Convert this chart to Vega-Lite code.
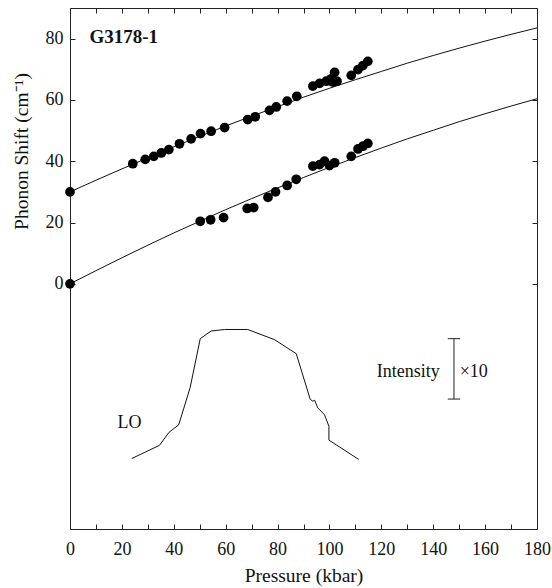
{
  "$schema": "https://vega.github.io/schema/vega-lite/v6.json",
  "width": 467,
  "height": 521,
  "autosize": "none",
  "padding": {"left": 70, "top": 8, "right": 15, "bottom": 59},
  "background": "white",
  "config": {
    "view": {"stroke": "#222", "strokeWidth": 1},
    "font": "Liberation Serif",
    "axis": {
      "grid": false,
      "domain": false,
      "tickColor": "#222",
      "tickSize": -5,
      "labelColor": "#111",
      "titleColor": "#111",
      "labelFont": "Liberation Serif",
      "titleFont": "Liberation Serif",
      "labelFontSize": 18,
      "titleFontSize": 19.5,
      "titleFontWeight": "normal"
    }
  },
  "datasets": {
    "fit": [
      {"series": "upper", "P": 0, "S": 30}, {"series": "upper", "P": 10, "S": 33.8}, {"series": "upper", "P": 20, "S": 37.5},
      {"series": "upper", "P": 30, "S": 41.1}, {"series": "upper", "P": 40, "S": 44.7}, {"series": "upper", "P": 50, "S": 48.1},
      {"series": "upper", "P": 60, "S": 51.5}, {"series": "upper", "P": 70, "S": 54.7}, {"series": "upper", "P": 80, "S": 57.8},
      {"series": "upper", "P": 90, "S": 60.9}, {"series": "upper", "P": 100, "S": 63.8}, {"series": "upper", "P": 110, "S": 66.6},
      {"series": "upper", "P": 120, "S": 69.3}, {"series": "upper", "P": 130, "S": 72.0}, {"series": "upper", "P": 140, "S": 74.5},
      {"series": "upper", "P": 150, "S": 76.9}, {"series": "upper", "P": 160, "S": 79.2}, {"series": "upper", "P": 170, "S": 81.4},
      {"series": "upper", "P": 180, "S": 83.5},
      {"series": "lower", "P": 0, "S": 0}, {"series": "lower", "P": 10, "S": 4.3}, {"series": "lower", "P": 20, "S": 8.5},
      {"series": "lower", "P": 30, "S": 12.6}, {"series": "lower", "P": 40, "S": 16.6}, {"series": "lower", "P": 50, "S": 20.4},
      {"series": "lower", "P": 60, "S": 24.2}, {"series": "lower", "P": 70, "S": 27.8}, {"series": "lower", "P": 80, "S": 31.3},
      {"series": "lower", "P": 90, "S": 34.7}, {"series": "lower", "P": 100, "S": 38.0}, {"series": "lower", "P": 110, "S": 41.2},
      {"series": "lower", "P": 120, "S": 44.3}, {"series": "lower", "P": 130, "S": 47.3}, {"series": "lower", "P": 140, "S": 50.1},
      {"series": "lower", "P": 150, "S": 52.9}, {"series": "lower", "P": 160, "S": 55.5}, {"series": "lower", "P": 170, "S": 58.0},
      {"series": "lower", "P": 180, "S": 60.4}
    ],
    "points": [
      {"P": 0, "S": 30}, {"P": 24.2, "S": 39.2}, {"P": 29.0, "S": 40.6}, {"P": 32.3, "S": 41.6}, {"P": 35.2, "S": 42.7},
      {"P": 38.1, "S": 43.8}, {"P": 42.2, "S": 45.7}, {"P": 46.7, "S": 47.3}, {"P": 50.3, "S": 49.0}, {"P": 54.4, "S": 49.8},
      {"P": 59.6, "S": 51.0}, {"P": 68.5, "S": 53.6}, {"P": 71.4, "S": 54.5}, {"P": 76.9, "S": 56.6}, {"P": 79.5, "S": 57.7},
      {"P": 83.7, "S": 59.6}, {"P": 87.4, "S": 61.2}, {"P": 93.6, "S": 64.5}, {"P": 96.2, "S": 65.4}, {"P": 98.8, "S": 66.1},
      {"P": 100.7, "S": 66.9}, {"P": 102.0, "S": 69.0}, {"P": 101.3, "S": 65.8}, {"P": 102.9, "S": 66.1}, {"P": 108.4, "S": 68.0},
      {"P": 111.0, "S": 69.9}, {"P": 112.9, "S": 71.2}, {"P": 114.8, "S": 72.6},
      {"P": 0, "S": 0}, {"P": 50.2, "S": 20.4}, {"P": 54.2, "S": 20.9}, {"P": 59.2, "S": 21.6}, {"P": 68.3, "S": 24.6},
      {"P": 70.8, "S": 24.9}, {"P": 76.3, "S": 28.2}, {"P": 79.2, "S": 30.0}, {"P": 83.7, "S": 32.1}, {"P": 87.2, "S": 34.1},
      {"P": 93.6, "S": 38.4}, {"P": 96.2, "S": 38.9}, {"P": 98.1, "S": 40.0}, {"P": 100.0, "S": 38.6}, {"P": 102.0, "S": 39.5},
      {"P": 108.4, "S": 41.6}, {"P": 111.0, "S": 44.0}, {"P": 112.9, "S": 44.9}, {"P": 114.8, "S": 45.8}
    ],
    "lo": [
      {"i": 1, "P": 23.8, "S": -57.0}, {"i": 2, "P": 34.5, "S": -52.7}, {"i": 3, "P": 38.1, "S": -48.5},
      {"i": 4, "P": 41.9, "S": -46.0}, {"i": 5, "P": 46.3, "S": -33.9}, {"i": 6, "P": 50.2, "S": -17.9},
      {"i": 7, "P": 54.4, "S": -15.4}, {"i": 8, "P": 59.6, "S": -14.9}, {"i": 9, "P": 68.5, "S": -14.9},
      {"i": 10, "P": 78.8, "S": -18.2}, {"i": 11, "P": 87.2, "S": -22.8}, {"i": 12, "P": 92.6, "S": -37.7},
      {"i": 13, "P": 93.6, "S": -38.3}, {"i": 14, "P": 94.3, "S": -38.0}, {"i": 15, "P": 95.5, "S": -40.5},
      {"i": 16, "P": 98.1, "S": -42.7}, {"i": 17, "P": 99.8, "S": -46.5}, {"i": 18, "P": 99.8, "S": -51.0},
      {"i": 19, "P": 111.3, "S": -57.3}
    ],
    "bar": [
      {"P": 148.0, "P2": 148.0, "S": -17.9, "S2": -37.6},
      {"P": 145.6, "P2": 150.4, "S": -17.9, "S2": -17.9},
      {"P": 145.6, "P2": 150.4, "S": -37.6, "S2": -37.6}
    ],
    "labels": [
      {"P": 18.3, "S": -45.3, "label": "LO"},
      {"P": 118.2, "S": -28.9, "label": "Intensity"},
      {"P": 150.2, "S": -28.9, "label": "×10"}
    ],
    "sample": [
      {"P": 7.5, "S": 80.4, "label": "G3178-1"}
    ]
  },
  "resolve": {"axis": {"x": "independent", "y": "independent"}},
  "layer": [
    {
      "data": {"name": "fit"},
      "mark": {"type": "line", "color": "#111", "strokeWidth": 1},
      "encoding": {
        "x": {
          "field": "P", "type": "quantitative",
          "scale": {"domain": [0, 180], "nice": false, "zero": false},
          "axis": {
            "orient": "bottom",
            "values": [0, 10, 20, 30, 40, 50, 60, 70, 80, 90, 100, 110, 120, 130, 140, 150, 160, 170, 180],
            "labelExpr": "datum.value % 20 === 0 ? datum.label : ''",
            "labelPadding": 16,
            "labelFlush": false,
            "labelOverlap": false,
            "title": "Pressure (kbar)",
            "titleBaseline": "alphabetic",
            "titleY": 52
          }
        },
        "y": {
          "field": "S", "type": "quantitative",
          "scale": {"domain": [-80, 90], "nice": false, "zero": false},
          "axis": {
            "orient": "left",
            "values": [0, 20, 40, 60, 80],
            "labelPadding": 12,
            "labelFlush": false,
            "title": "Phonon Shift (cm⁻¹)",
            "titleAngle": -90,
            "titleAlign": "center",
            "titleBaseline": "alphabetic",
            "titleX": -43,
            "titleY": 143
          }
        },
        "detail": {"field": "series"}
      }
    },
    {
      "data": {"name": "points"},
      "mark": {"type": "circle", "color": "#000", "opacity": 1, "size": 95},
      "encoding": {
        "x": {
          "field": "P", "type": "quantitative",
          "axis": {"orient": "top", "values": [0, 10, 20, 30, 40, 50, 60, 70, 80, 90, 100, 110, 120, 130, 140, 150, 160, 170, 180], "labels": false, "title": null}
        },
        "y": {
          "field": "S", "type": "quantitative",
          "axis": {"orient": "right", "values": [0, 20, 40, 60, 80], "labels": false, "title": null}
        }
      }
    },
    {
      "data": {"name": "lo"},
      "mark": {"type": "line", "color": "#111", "strokeWidth": 1},
      "encoding": {
        "x": {"field": "P", "type": "quantitative", "axis": null},
        "y": {"field": "S", "type": "quantitative", "axis": null},
        "order": {"field": "i"}
      }
    },
    {
      "data": {"name": "bar"},
      "mark": {"type": "rule", "color": "#222", "strokeWidth": 1},
      "encoding": {
        "x": {"field": "P", "type": "quantitative", "axis": null},
        "x2": {"field": "P2"},
        "y": {"field": "S", "type": "quantitative", "axis": null},
        "y2": {"field": "S2"}
      }
    },
    {
      "data": {"name": "labels"},
      "mark": {"type": "text", "align": "left", "baseline": "middle", "font": "Liberation Serif", "fontSize": 18, "color": "#111"},
      "encoding": {
        "x": {"field": "P", "type": "quantitative", "axis": null},
        "y": {"field": "S", "type": "quantitative", "axis": null},
        "text": {"field": "label"}
      }
    },
    {
      "data": {"name": "sample"},
      "mark": {"type": "text", "align": "left", "baseline": "middle", "font": "Liberation Serif", "fontSize": 19, "fontWeight": "bold", "color": "#111"},
      "encoding": {
        "x": {"field": "P", "type": "quantitative", "axis": null},
        "y": {"field": "S", "type": "quantitative", "axis": null},
        "text": {"field": "label"}
      }
    }
  ]
}
